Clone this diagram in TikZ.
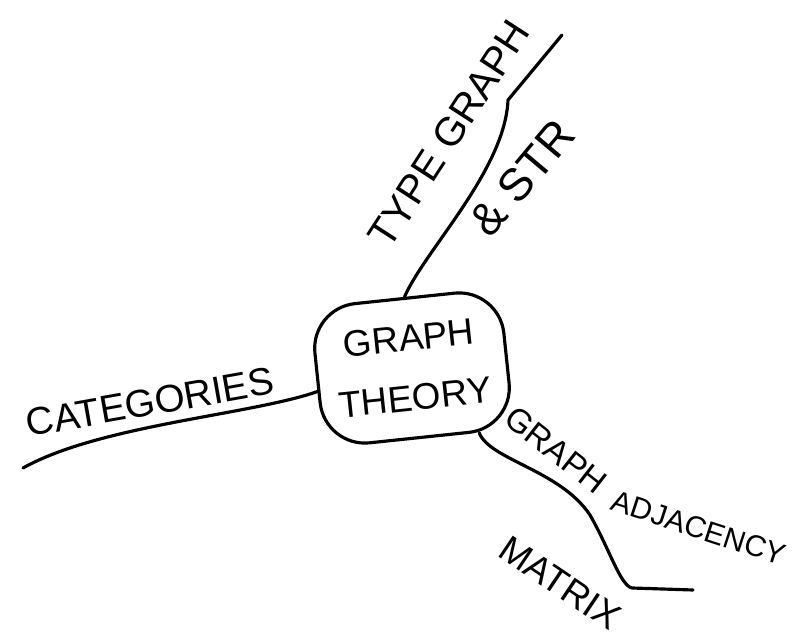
\documentclass[tikz,border=0pt]{standalone}
\usepackage{fontspec}
\setsansfont{Liberation Sans}
\usepackage{tikz}
\usetikzlibrary{positioning}

\begin{document}
\begin{tikzpicture}[
  x=0.02cm, y=-0.02cm,
  every node/.style={font=\sffamily, inner sep=0pt},
  hub/.style={
    draw, line width=1.8pt, rounded corners=9mm, align=center,
    minimum width=3.8cm, minimum height=2.8cm, rotate=6,
    font=\sffamily\fontsize{21}{34}\selectfont
  },
  branch/.style={line width=1.8pt, line cap=round, line join=round},
  lbl/.style={font=\sffamily\fontsize{#1}{#1}\selectfont},
  lbl/.default=22
]
\useasboundingbox (0,0) rectangle (798,644);
\node[hub] (theory) at (412,368) {GRAPH\\THEORY};
\coordinate (typeBend) at (508,100);
\coordinate (typeTip) at (562,35);
\coordinate (catTip) at (23,468);
\coordinate (adjBend) at (632,588);
\coordinate (adjTip) at (693,590);
\node[lbl=23, rotate=57] (typeText) at (449,134) {TYPE GRAPH};
\node[lbl=26, rotate=50] (strText) at (522,178) {\& STR};
\node[lbl, rotate=10] (catText) at (150,402) {CATEGORIES};
\node[lbl=19, rotate=-38] (graphText) at (556,450) {GRAPH};
\node[lbl=17, rotate=-18] (adjText) at (699,528) {ADJACENCY};
\node[lbl=21, rotate=-34] (matrixText) at (560,583) {MATRIX};
\draw[branch] (theory.north) .. controls (425,250) and (505,170) .. (typeBend) -- (typeTip);
\draw[branch] (theory.188) .. controls (250,415) and (100,425) .. (catTip);
\draw[branch] (theory.-50) .. controls (490,460) and (560,470) .. (590,515)
  .. controls (610,550) and (620,585) .. (adjBend) -- (adjTip);
\end{tikzpicture}
\end{document}
